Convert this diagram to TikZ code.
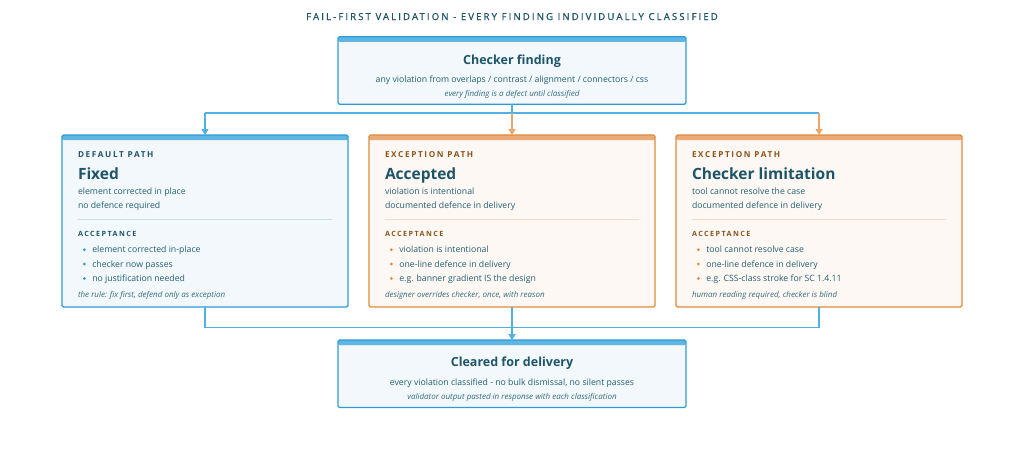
\documentclass[tikz,border=0pt]{standalone}
\usepackage{fontspec}
\setmainfont{Open Sans}
\newfontfamily\titlefont{Open Sans}[LetterSpace=22,FakeBold=0.8]
\newfontfamily\labelfont{Open Sans}[LetterSpace=20]
\usetikzlibrary{arrows.meta}
\definecolor{bblue}{HTML}{2E9BD6}
\definecolor{bbar}{HTML}{5DB6E3}
\definecolor{bfill}{HTML}{F2F8FC}
\definecolor{conblue}{HTML}{4FB1E2}
\definecolor{oborder}{HTML}{E08A3A}
\definecolor{obar}{HTML}{EBAA78}
\definecolor{ofill}{HTML}{FDF8F4}
\definecolor{conorange}{HTML}{EBA66A}
\definecolor{tdark}{HTML}{1E5468}
\definecolor{tbody}{HTML}{245F71}
\definecolor{tital}{HTML}{346B7B}
\definecolor{obrown}{HTML}{8A5319}
\definecolor{bsep}{HTML}{C9DFE8}
\definecolor{osep}{HTML}{F0DDCC}
\tikzset{
  card/.style={draw=#1, line width=1.2pt, rounded corners=1.5pt, inner sep=0pt, outer sep=0pt},
  bluecard/.style={card=bblue, fill=bfill,
    path picture={\fill[bbar] (path picture bounding box.north west) rectangle ([yshift=-5pt]path picture bounding box.north east);}},
  orangecard/.style={card=oborder, fill=ofill,
    path picture={\fill[obar] (path picture bounding box.north west) rectangle ([yshift=-5pt]path picture bounding box.north east);}},
  txt/.style={inner sep=0pt, outer sep=0pt, anchor=base west, text=tbody, font=\fontsize{8.7}{10}\selectfont},
  ctr/.style={anchor=base},
  headtxt/.style={txt, text=tdark, font=\fontsize{12.5}{14}\selectfont\bfseries},
  cardtitle/.style={txt, text=tdark, font=\fontsize{15.5}{18}\selectfont\bfseries},
  ittxt/.style={txt, text=tital, font=\fontsize{8}{9}\selectfont\itshape},
  lab/.style={txt, text=#1, font=\fontsize{8.2}{9}\selectfont\labelfont\bfseries},
  sublab/.style={txt, text=#1, font=\fontsize{7.2}{9}\selectfont\labelfont\bfseries},
  conb/.style={draw=conblue, line width=1.4pt},
  cono/.style={draw=conorange, line width=1.4pt},
  arr/.style={-{Triangle[length=6pt,width=7pt]}},
}
\begin{document}
\begin{tikzpicture}[x=1pt,y=-1pt]
\useasboundingbox[fill=white] (0,0) rectangle (1024,451);
% title
\node[txt, ctr, text=tdark, font=\fontsize{9.6}{11}\selectfont\titlefont] (title) at (512,20) {FAIL-FIRST VALIDATION - EVERY FINDING INDIVIDUALLY CLASSIFIED};
% boxes
\node[bluecard, minimum width=348pt, minimum height=67.5pt] (finding) at (512,70.5) {};
\node[bluecard, minimum width=286pt, minimum height=172pt] (fixed) at (205,221) {};
\node[orangecard, minimum width=286pt, minimum height=172pt] (accepted) at (512,221) {};
\node[orangecard, minimum width=286pt, minimum height=172pt] (limit) at (819,221) {};
\node[bluecard, minimum width=348pt, minimum height=67.5pt] (cleared) at (512,373.8) {};
% connectors top
\coordinate (jtop) at (512,113);
\coordinate (jl) at (fixed.north |- jtop);
\coordinate (jr) at (limit.north |- jtop);
\draw[conb] (finding.south) -- (jtop);
\draw[conb] (jl) -- (jr);
\draw[conb, arr] (jl) -- (fixed.north);
\draw[cono, arr] (jtop) -- (accepted.north);
\draw[cono, arr] (jr) -- (limit.north);
% connectors bottom
\coordinate (jb) at (512,327.5);
\coordinate (bl) at (fixed.south |- jb);
\coordinate (br) at (limit.south |- jb);
\draw[conb] (fixed.south) -- (bl) -- (br) -- (limit.south);
\draw[conb, arr] (accepted.south) -- (cleared.north);
% top box text
\node[headtxt, ctr] (findingT) at (512,64) {Checker finding};
\node[txt, ctr] (findingA) at (512,82.3) {any violation from overlaps / contrast / alignment / connectors / css};
\node[ittxt, ctr] (findingB) at (512,96) {every finding is a defect until classified};
% bottom box text
\node[headtxt, ctr] (clearedT) at (512,366.7) {Cleared for delivery};
\node[txt, ctr] (clearedA) at (512,385) {every violation classified - no bulk dismissal, no silent passes};
\node[ittxt, ctr] (clearedB) at (512,399.3) {validator output pasted in response with each classification};
% fixed card
\node[lab=tdark] (fixedL) at (78,157.3) {DEFAULT PATH};
\node[cardtitle] (fixedT) at (78,179) {Fixed};
\node[txt] (fixedA) at (78,194.5) {element corrected in place};
\node[txt] (fixedB) at (78,208) {no defence required};
\draw[bsep, line width=0.8pt] (78,219.3) -- (332,219.3);
\node[sublab=tdark] (fixedAcc) at (78,236) {ACCEPTANCE};
\fill[bblue] (84.3,249.7) circle (1.5pt) (84.3,264) circle (1.5pt) (84.3,278.5) circle (1.5pt);
\node[txt] (fixed1) at (92.3,252.7) {element corrected in-place};
\node[txt] (fixed2) at (92.3,267) {checker now passes};
\node[txt] (fixed3) at (92.3,281.5) {no justification needed};
\node[ittxt] (fixedF) at (78,297.3) {the rule: fix first, defend only as exception};
% accepted card
\node[lab=obrown] (accL) at (385,157.3) {EXCEPTION PATH};
\node[cardtitle] (accT) at (385,179) {Accepted};
\node[txt] (accA) at (385,194.5) {violation is intentional};
\node[txt] (accB) at (385,208) {documented defence in delivery};
\draw[osep, line width=0.8pt] (385,219.3) -- (639,219.3);
\node[sublab=obrown] (accAcc) at (385,236) {ACCEPTANCE};
\fill[oborder] (391.3,249.7) circle (1.5pt) (391.3,264) circle (1.5pt) (391.3,278.5) circle (1.5pt);
\node[txt] (acc1) at (399.3,252.7) {violation is intentional};
\node[txt] (acc2) at (399.3,267) {one-line defence in delivery};
\node[txt] (acc3) at (399.3,281.5) {e.g. banner gradient IS the design};
\node[ittxt] (accF) at (385,297.3) {designer overrides checker, once, with reason};
% limitation card
\node[lab=obrown] (limL) at (692,157.3) {EXCEPTION PATH};
\node[cardtitle] (limT) at (692,179) {Checker limitation};
\node[txt] (limA) at (692,194.5) {tool cannot resolve the case};
\node[txt] (limB) at (692,208) {documented defence in delivery};
\draw[osep, line width=0.8pt] (692,219.3) -- (946,219.3);
\node[sublab=obrown] (limAcc) at (692,236) {ACCEPTANCE};
\fill[oborder] (698.3,249.7) circle (1.5pt) (698.3,264) circle (1.5pt) (698.3,278.5) circle (1.5pt);
\node[txt] (lim1) at (706.3,252.7) {tool cannot resolve case};
\node[txt] (lim2) at (706.3,267) {one-line defence in delivery};
\node[txt] (lim3) at (706.3,281.5) {e.g. CSS-class stroke for SC 1.4.11};
\node[ittxt] (limF) at (692,297.3) {human reading required, checker is blind};
\end{tikzpicture}
\end{document}
